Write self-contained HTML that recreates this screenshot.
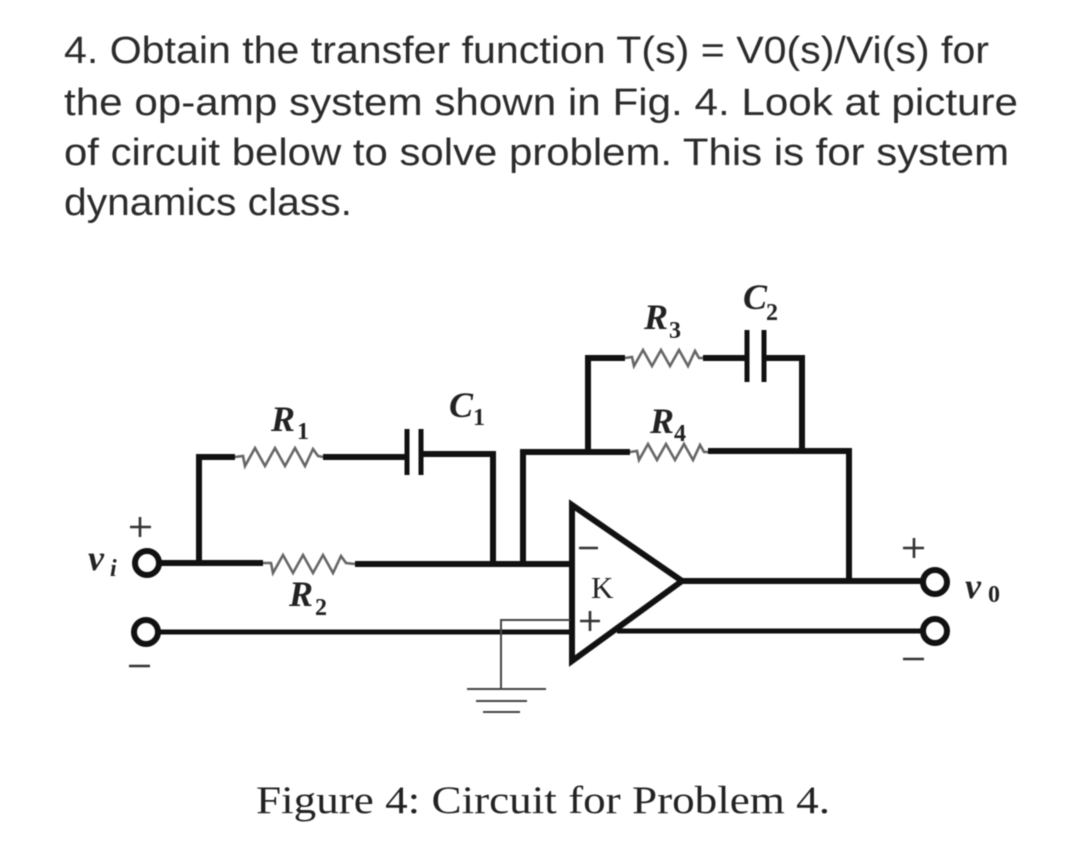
<!DOCTYPE html>
<html>
<head>
<meta charset="utf-8">
<style>
html,body{margin:0;padding:0;background:#fff;width:1080px;height:852px;overflow:hidden}
svg{display:block;filter:blur(.4px)}
.t{font-family:"Liberation Sans",sans-serif;font-size:38px;fill:#2b2b2b}
.c{font-family:"Liberation Serif",serif;font-size:39px;fill:#222}
.m{font-family:"Liberation Serif",serif;font-weight:bold;font-style:italic;fill:#222;font-size:36px}
.s{font-family:"Liberation Serif",serif;font-weight:bold;fill:#222;font-size:24px}
.w{fill:none;stroke:#111;stroke-width:6;stroke-linejoin:miter}
.n{fill:none;stroke:#111;stroke-width:5}
.g{fill:none;stroke:#444;stroke-width:2}
.r{fill:none;stroke:#666;stroke-width:2.6}
.p{fill:none;stroke:#333;stroke-width:2.6}
</style>
</head>
<body>
<svg width="1080" height="852" viewBox="0 0 1080 852" xmlns="http://www.w3.org/2000/svg">
<rect width="1080" height="852" fill="#fff"/>
<text class="t" x="64" y="63" textLength="925" lengthAdjust="spacingAndGlyphs">4. Obtain the transfer function T(s) = V0(s)/Vi(s) for</text>
<text class="t" x="64" y="115" textLength="954" lengthAdjust="spacingAndGlyphs">the op-amp system shown in Fig. 4. Look at picture</text>
<text class="t" x="64" y="165" textLength="945" lengthAdjust="spacingAndGlyphs">of circuit below to solve problem. This is for system</text>
<text class="t" x="64" y="215" textLength="288" lengthAdjust="spacingAndGlyphs">dynamics class.</text>

<!-- R1 / C1 branch -->
<path class="w" d="M199 563V457H235M323 457H405"/>
<path class="w" d="M421 454H493V564"/>
<path class="n" d="M407 429V475M421 429V475"/>
<path class="r" d="M235 457L243 456L245 466L255 448L265 466L275 448L285 466L295 448L305 466L313 449L318 456L323 457"/>

<!-- R2 branch -->
<path class="w" d="M160 563H263M355 564H572"/>
<path class="r" d="M263 563L271 563L273 573L283 555L293 573L303 555L313 573L323 555L333 573L341 556L346 563L355 564"/>

<!-- Feedback -->
<path class="w" d="M523 564V452H630M708 451H849V581"/>
<path class="w" d="M588 452V358H625M703 358H745M764 358H802V451"/>
<path class="n" d="M747 330V382M764 330V382"/>
<path class="r" d="M625 358L632 357L634 366L643 350L652 366L661 350L670 366L679 350L688 366L695 351L699 358L703 358"/>
<path class="r" d="M630 452L637 451L639 460L648 444L657 460L666 444L675 460L684 444L693 460L700 445L704 452L708 452"/>

<!-- lower rail -->
<path class="n" d="M160 632H572M617 631H925"/>
<!-- output -->
<path class="w" d="M683 581H925"/>

<!-- op-amp -->
<path d="M572 505L682 581L572 661Z" fill="none" stroke="#111" stroke-width="6" stroke-linejoin="miter"/>
<path class="p" d="M579 548H598M580 621H600M590 611V631"/>
<text x="591" y="598" font-family="Liberation Serif,serif" font-size="31" fill="#222">K</text>

<!-- ground -->
<path class="g" d="M570 620H501V689"/>
<path class="g" d="M467 689H546M476 701H527M483 712H520"/>

<!-- terminals -->
<g fill="#fff" stroke="#111" stroke-width="6">
<circle cx="147" cy="563" r="12"/>
<circle cx="146" cy="632" r="12"/>
<circle cx="935" cy="582" r="12"/>
<circle cx="935" cy="631" r="12"/>
</g>
<path class="p" d="M130 527H151M140 517V537M129 666H150M903 548H924M914 538V558M903 659H924"/>

<!-- labels -->
<text class="m" x="271" y="431">R</text><text class="s" x="297" y="439">1</text>
<text class="m" x="449" y="417">C</text><text class="s" x="473" y="425">1</text>
<text class="m" x="289" y="606">R</text><text class="s" x="315" y="615">2</text>
<text class="m" x="644" y="329">R</text><text class="s" x="669" y="338">3</text>
<text class="m" x="650" y="433">R</text><text class="s" x="674" y="441">4</text>
<text class="m" x="743" y="309">C</text><text class="s" x="766" y="320">2</text>
<text class="m" x="88" y="570" font-size="42">v</text><text class="s" x="110" y="576" font-style="italic">i</text>
<text class="m" x="965" y="598" font-size="42">v</text><text class="s" x="988" y="602">0</text>

<text class="c" x="256" y="813" textLength="574" lengthAdjust="spacingAndGlyphs">Figure 4: Circuit for Problem 4.</text>
</svg>
</body>
</html>
